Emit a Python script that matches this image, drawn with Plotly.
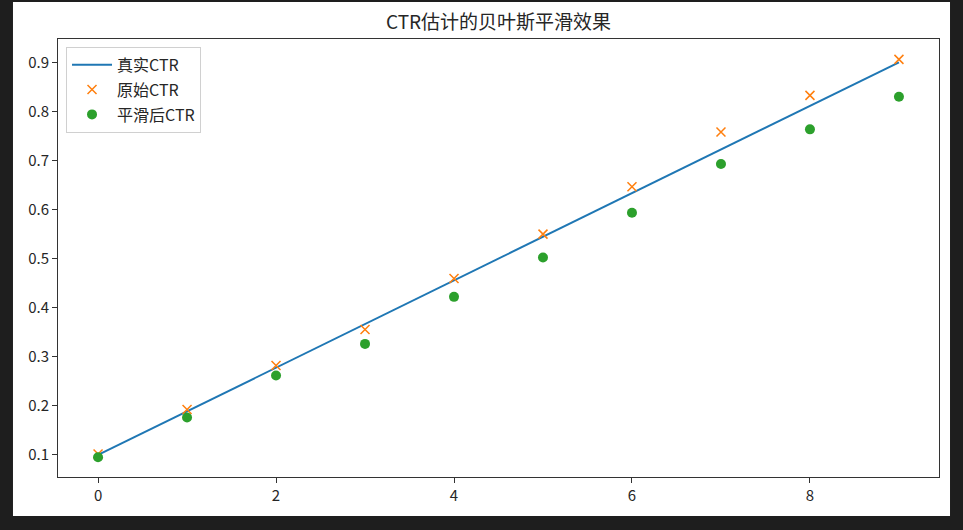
import plotly.graph_objects as go

# 数据
steps = [0, 1, 2, 3, 4, 5, 6, 7, 8, 9]
true_ctr = [0.1, 0.1889, 0.2778, 0.3667, 0.4556, 0.5444, 0.6333, 0.7222, 0.8111, 0.9]
raw_ctr = [0.102, 0.1926, 0.2823, 0.3557, 0.4596, 0.55, 0.6464, 0.7579, 0.8327, 0.906]
smooth_ctr = [0.0953, 0.1762, 0.2619, 0.3263, 0.4221, 0.5024, 0.5934, 0.6927, 0.7634, 0.8299]

x_ticks = [0, 2, 4, 6, 8]
y_ticks = [0.1, 0.2, 0.3, 0.4, 0.5, 0.6, 0.7, 0.8, 0.9]

FONT = "Noto Sans CJK SC, Microsoft YaHei, sans-serif"

fig = go.Figure()

fig.add_trace(go.Scatter(x=steps, y=true_ctr, mode='lines', name='真实CTR',
                         legendgroup='a',
                         line=dict(color='#1f77b4', width=2)))
fig.add_trace(go.Scatter(x=steps, y=raw_ctr, mode='markers', name='原始CTR',
                         legendgroup='b',
                         marker=dict(symbol='x-thin', size=9,
                                     line=dict(color='#ff7f0e', width=1.5))))
fig.add_trace(go.Scatter(x=steps, y=smooth_ctr, mode='markers', name='平滑后CTR',
                         legendgroup='c',
                         marker=dict(color='#2ca02c', size=10)))

# 白色画布区域（外围为深色背景）
fig.add_shape(type='rect', xref='paper', yref='paper',
              x0=-0.0511, x1=1.0125, y0=-0.089, y1=1.0845,
              fillcolor='white', line=dict(width=0), layer='below')

axis_style = dict(showline=True, mirror=True, linecolor='#333333', linewidth=1,
                  ticks='outside', ticklen=5, tickwidth=1, tickcolor='#333333',
                  showgrid=False, zeroline=False,
                  tickfont=dict(family=FONT, size=15, color='#262626'))

fig.update_xaxes(range=[-0.45, 9.45], tickvals=x_ticks, **axis_style)
fig.update_yaxes(range=[0.0551, 0.9475], tickvals=y_ticks, tickformat='.1f', **axis_style)

fig.update_layout(
    width=963, height=530,
    margin=dict(l=58, r=24, t=39, b=53),
    paper_bgcolor='#1e1e1e',
    plot_bgcolor='white',
    title=dict(text='CTR估计的贝叶斯平滑效果', x=0.5, xref='paper',
               y=1 - 22 / 530, yanchor='middle',
               font=dict(family=FONT, size=19, color='#262626')),
    legend=dict(x=0.0091, y=0.982, xanchor='left', yanchor='top',
                bgcolor='white', bordercolor='#d0d0d0', borderwidth=1,
                itemwidth=40, tracegroupgap=1,
                font=dict(family=FONT, size=16, color='#262626')),
)

fig.write_html("out.html",
               config={'displayModeBar': False},
               post_script="document.body.style.margin='0';"
                           "document.body.style.background='#1e1e1e';")
